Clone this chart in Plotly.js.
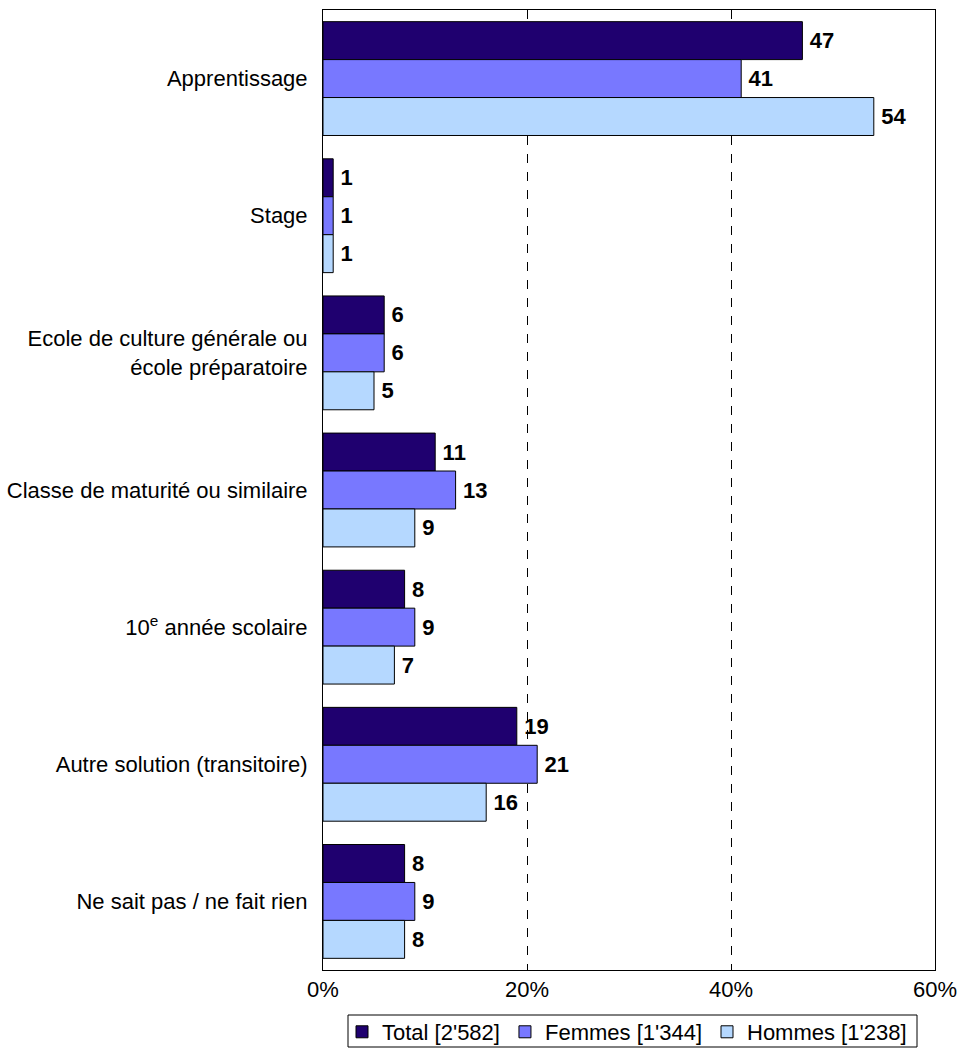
<!DOCTYPE html>
<html><head><meta charset="utf-8">
<script src="https://cdn.plot.ly/plotly-3.0.1.min.js"></script>
<style>body{margin:0;background:#fff}#chart{width:958px;height:1053px}</style>
</head><body><div id="chart"></div>
<script>
const categories = ["Apprentissage","Stage","Ecole de culture générale ou<br>école préparatoire","Classe de maturité ou similaire","10<sup>e</sup> année scolaire","Autre solution (transitoire)","Ne sait pas / ne fait rien"];
const seriesNames = ["Total [2'582]","Femmes [1'344]","Hommes [1'238]"];
const total = [47,1,6,11,8,19,8];
const femmes = [41,1,6,13,9,21,9];
const hommes = [54,1,5,9,7,16,8];
const tickValues = [0,20,40,60];
const tickLabels = ["0%","20%","40%","60%"];
const colors = ["#1F006F","#7878FF","#B5D8FF"];
const vals = [total, femmes, hommes];
const font = "Liberation Sans, Arial, sans-serif";
const traces = vals.map((v,i)=>({
  type:'bar', orientation:'h', name:seriesNames[i], y:categories, x:v,
  marker:{color:colors[i], line:{color:'#000', width:1}},
  text:v.map(n=>'\u2009'+n), textposition:'outside', cliponaxis:false,
  textfont:{family:font, size:22, color:'#000', weight:'bold'}
}));
const layout = {
  width:958, height:1053, paper_bgcolor:'#fff', plot_bgcolor:'#fff',
  margin:{l:323, r:23, t:10, b:83, autoexpand:false},
  barmode:'group', bargap:0.17, bargroupgap:0,
  font:{family:font, size:22, color:'#000'},
  xaxis:{range:[0,60], tickvals:tickValues, ticktext:tickLabels, showgrid:true, gridcolor:'#000', griddash:'dash', gridwidth:1,
    showline:true, linecolor:'#000', linewidth:1, mirror:true, zeroline:false, ticks:'', tickfont:{size:22}, ticklabelstandoff:0, automargin:false},
  yaxis:{autorange:'reversed', showline:true, linecolor:'#000', linewidth:1, mirror:true, ticks:'', showgrid:false, tickfont:{size:22}, ticklabelstandoff:10, automargin:false},
  showlegend:true,
  legend:{orientation:'h', x:(342-323)/612, xanchor:'left', y:-0.0427, yanchor:'top', borderwidth:0, bgcolor:'rgba(0,0,0,0)', font:{size:22}, traceorder:'normal', itemwidth:20, tracegroupgap:0},
  shapes:[{type:'rect', xref:'paper', yref:'paper', x0:(348-323)/612, x1:(917-323)/612, y0:(970-1047)/960, y1:(970-1015)/960, line:{color:'#000', width:1}, fillcolor:'rgba(0,0,0,0)', layer:'below'}]
};
Plotly.newPlot('chart', traces, layout, {displayModeBar:false});
</script></body></html>
